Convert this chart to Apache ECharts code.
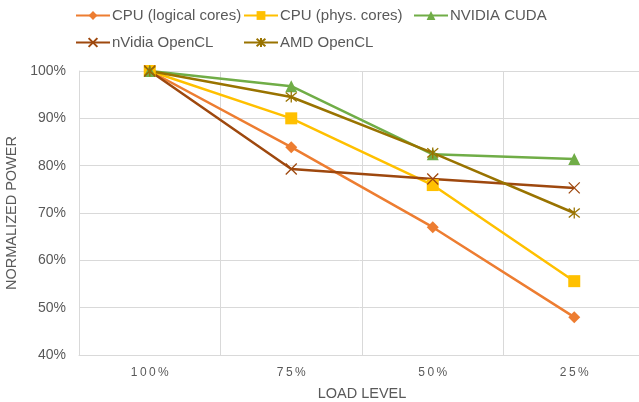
<!DOCTYPE html>
<html>
<head>
<meta charset="utf-8">
<script src="https://cdn.jsdelivr.net/npm/echarts@6/dist/echarts.min.js"></script>
<style>
  html, body { margin: 0; padding: 0; background: #fff; }
  #chart { width: 639px; height: 402px; }
</style>
</head>
<body>
<div id="chart"></div>
<script>
// Load levels along the x axis
const loadLevels = ['100%', '75%', '50%', '25%'];

// Normalized power (%) per implementation
const cpuLogical = [100, 83.9, 67.0, 48.0];
const cpuPhys = [100, 90.0, 75.9, 55.6];
const nvidiaCuda = [100, 96.8, 82.4, 81.4];
const nvidiaOpenCL = [100, 79.3, 77.2, 75.3];
const amdOpenCL = [100, 94.5, 82.7, 70.0];

// y axis ticks
const yTicks = [40, 50, 60, 70, 80, 90, 100];

const crossPath = 'path://M0,0L10,10M10,0L0,10';
const starPath = 'path://M0,0L10,10M10,0L0,10M5,-1L5,11';

const textColor = '#595959';
const font = 'Liberation Sans, Arial, sans-serif';

function lineSeries(name, data, color, symbol, size, stroke) {
  return {
    name: name,
    type: 'line',
    data: data,
    symbol: symbol,
    symbolSize: size,
    showAllSymbol: true,
    lineStyle: { color: color, width: 2.5 },
    itemStyle: stroke
      ? { color: 'rgba(0,0,0,0)', borderColor: color, borderWidth: 1.3 }
      : { color: color, borderWidth: 0 },
    emphasis: { disabled: true },
    z: 3
  };
}

const series = [
  lineSeries('CPU (logical cores)', cpuLogical, '#ED7D31', 'diamond', 12, false),
  lineSeries('CPU (phys. cores)', cpuPhys, '#FFC000', 'rect', 12, false),
  lineSeries('NVIDIA CUDA', nvidiaCuda, '#70AD47', 'triangle', 12, false),
  lineSeries('nVidia OpenCL', nvidiaOpenCL, '#9E480E', crossPath, 11, true),
  lineSeries('AMD OpenCL', amdOpenCL, '#997300', starPath, 11, true)
];

// One legend entry per slot, laid out in two rows
const legendSlots = [
  ['CPU (logical cores)', 75, 8],
  ['CPU (phys. cores)', 243, 8],
  ['NVIDIA CUDA', 413, 8],
  ['nVidia OpenCL', 75, 35],
  ['AMD OpenCL', 243, 35]
];

const legends = legendSlots.map(function (s) {
  return {
    data: [s[0]],
    left: s[1],
    top: s[2],
    itemWidth: 34,
    itemHeight: 11,
    itemGap: 2,
    padding: 0,
    selectedMode: false,
    textStyle: { color: textColor, fontSize: 15, fontFamily: font, padding: [0, 0, 0, -3] }
  };
});

const chart = echarts.init(document.getElementById('chart'), null, { renderer: 'canvas' });
chart.setOption({
  animation: false,
  backgroundColor: '#fff',
  legend: legends,
  grid: { left: 79, top: 71, right: -6, bottom: 47, containLabel: false, outerBoundsMode: 'none' },
  xAxis: {
    type: 'category',
    data: loadLevels,
    boundaryGap: true,
    name: 'LOAD LEVEL',
    nameLocation: 'middle',
    nameGap: 31,
    nameTextStyle: { color: textColor, fontSize: 14.5, fontFamily: font },
    axisLine: { show: true, lineStyle: { color: '#d9d9d9', width: 1 } },
    axisTick: { show: false },
    axisLabel: {
      color: textColor, fontSize: 12, fontFamily: font, margin: 12,
      formatter: function (v) { return v.split('').join('\u2009'); }
    },
    splitLine: { show: true, lineStyle: { color: '#d9d9d9', width: 1 } }
  },
  yAxis: {
    type: 'value',
    min: yTicks[0],
    max: yTicks[yTicks.length - 1],
    interval: 10,
    name: 'NORMALIZED POWER',
    nameLocation: 'middle',
    nameGap: 56,
    nameRotate: 90,
    nameTextStyle: { color: textColor, fontSize: 14.5, fontFamily: font },
    axisLine: { show: true, lineStyle: { color: '#d9d9d9', width: 1 } },
    axisTick: { show: false },
    axisLabel: {
      color: textColor, fontSize: 14, fontFamily: font, margin: 13,
      formatter: function (v) { return v + '%'; }
    },
    splitLine: { show: true, lineStyle: { color: '#d9d9d9', width: 1 } }
  },
  series: series
});
</script>
</body>
</html>
